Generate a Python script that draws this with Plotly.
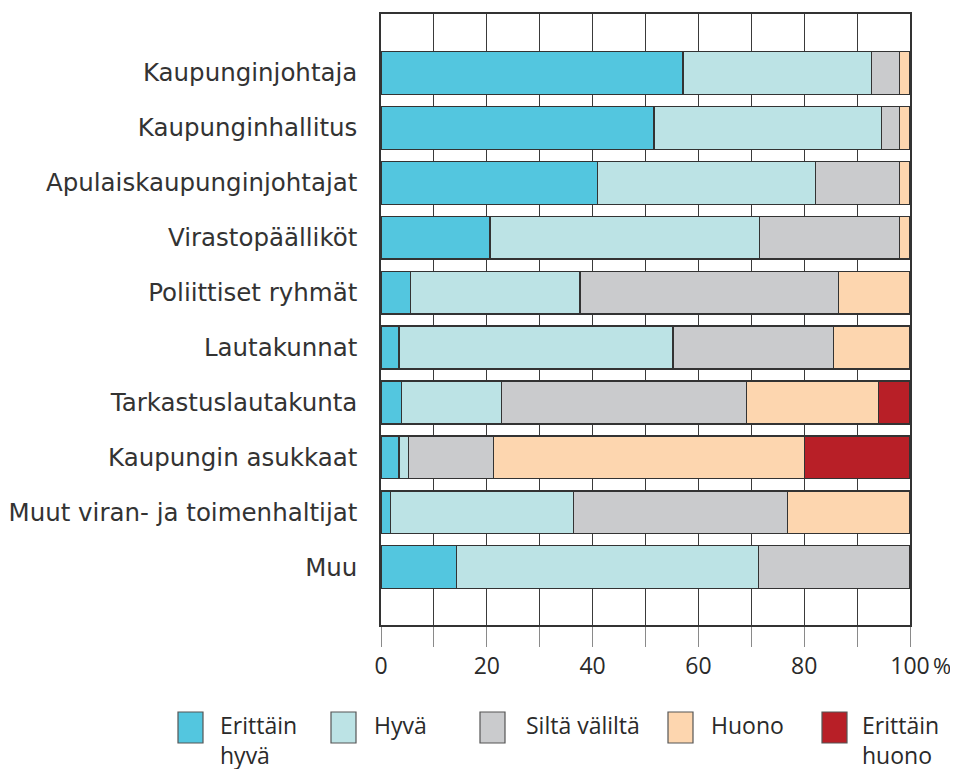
import plotly.graph_objects as go

# Kategoriat ylhäältä alas
kategoriat = [
    "Kaupunginjohtaja",
    "Kaupunginhallitus",
    "Apulaiskaupunginjohtajat",
    "Virastopäälliköt",
    "Poliittiset ryhmät",
    "Lautakunnat",
    "Tarkastuslautakunta",
    "Kaupungin asukkaat",
    "Muut viran- ja toimenhaltijat",
    "Muu",
]

# Osuudet prosentteina (luettu kuvasta)
erittain_hyva = [57.1, 51.6, 40.9, 20.6, 5.5, 3.4, 3.8, 3.4, 1.8, 14.2]
hyva = [35.6, 43.0, 41.2, 50.9, 32.1, 51.8, 19.0, 1.8, 34.6, 57.1]
silta_valilta = [5.3, 3.4, 15.9, 26.5, 48.9, 30.4, 46.3, 16.1, 40.5, 28.7]
huono = [2.0, 2.0, 2.0, 2.0, 13.5, 14.4, 25.0, 58.8, 23.1, 0.0]
erittain_huono = [0.0, 0.0, 0.0, 0.0, 0.0, 0.0, 5.9, 19.9, 0.0, 0.0]

sarjat = [
    ("Erittäin<br>hyvä", erittain_hyva, "#53c6df"),
    ("Hyvä", hyva, "#bce3e5"),
    ("Siltä väliltä", silta_valilta, "#cacbcd"),
    ("Huono", huono, "#fdd6af"),
    ("Erittäin<br>huono", erittain_huono, "#b81f27"),
]

x_tikit = [0, 10, 20, 30, 40, 50, 60, 70, 80, 90, 100]
x_tekstit = ["0", "", "20", "", "40", "", "60", "", "80", "", "100"]

LEVEA = "DejaVu Sans, sans-serif"
KAPEA = "Open Sans, sans-serif"
TEKSTI = "#2a2a2a"

# sivun body-marginaali (8 px) vähennetään
L, T, PW, PH = 373, 6, 529, 611

fig = go.Figure()
for nimi, arvot, vari in sarjat:
    fig.add_bar(
        y=kategoriat, x=arvot, name=nimi, orientation="h",
        marker=dict(color=vari, line=dict(color="#333333", width=1.2)),
    )

fig.update_layout(
    barmode="stack",
    bargap=0.22,
    width=958, height=769,
    margin=dict(l=L, r=958 - L - PW, t=T, b=769 - T - PH),
    plot_bgcolor="white", paper_bgcolor="white",
    font=dict(family=LEVEA, size=21, color=TEKSTI),
    showlegend=False,
)

fig.update_xaxes(
    range=[0, 100], tickvals=x_tikit, ticktext=x_tekstit,
    showgrid=True, gridcolor="#3a3a3a", gridwidth=1,
    ticks="outside", ticklen=20, tickcolor="#8a8a8a", tickwidth=1,
    showline=True, linecolor="#333333", linewidth=1.5, mirror=True,
    tickfont=dict(family=KAPEA, size=23, color=TEKSTI), zeroline=False,
    automargin=False,
)
fig.update_yaxes(
    range=[10.05, -1.07], showgrid=False,
    showline=True, linecolor="#333333", linewidth=1.5, mirror=True,
    ticks="", ticklabelstandoff=17, tickfont=dict(family=LEVEA, size=24.5, color="#333333"),
    automargin=False,
)

# prosenttimerkki 100:n perään
fig.add_annotation(x=100, y=0, xref="x", yref="paper", text="%", showarrow=False,
                   xanchor="left", yanchor="middle", xshift=21, yshift=-40,
                   font=dict(family=KAPEA, size=22, color=TEKSTI))

# selite alareunaan (laatikot + tekstit)
selite_x = [178, 331, 480, 668, 822]
teksti_x = [218, 372, 524, 709, 860]
for (nimi, _, vari), bx, tx in zip(sarjat, selite_x, teksti_x):
    bx -= 8
    tx -= 8
    fig.add_shape(type="rect", xref="paper", yref="paper",
                  x0=(bx - L) / PW, x1=(bx + 25 - L) / PW,
                  y0=(T + PH - 735) / PH, y1=(T + PH - 704) / PH,
                  fillcolor=vari, line=dict(color="#555555", width=1.2))
    fig.add_annotation(x=(tx - L) / PW, y=(T + PH - 699) / PH, xref="paper", yref="paper",
                       text=nimi, showarrow=False, xanchor="left", yanchor="top",
                       align="left", font=dict(family=KAPEA, size=23, color=TEKSTI))

fig.write_html("out.html")
